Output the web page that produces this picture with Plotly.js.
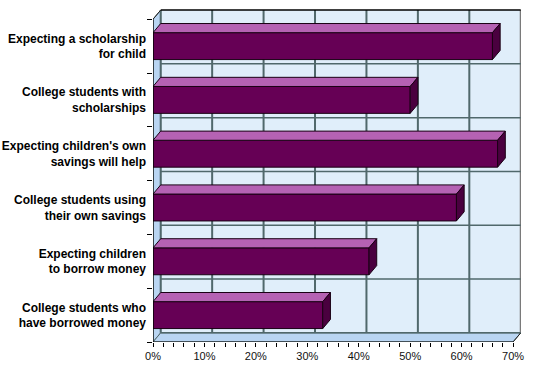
<!DOCTYPE html>
<html><head><meta charset="utf-8">
<script src="https://cdn.plot.ly/plotly-3.0.1.min.js"></script>
<style>html,body{margin:0;padding:0;background:#fff}</style>
</head><body><div id="chart" style="width:537px;height:367px"></div>
<script>
// ---- data ----
const categories = [
  "Expecting a scholarship<br>for child",
  "College students with<br>scholarships",
  "Expecting children's own<br>savings will help",
  "College students using<br>their own savings",
  "Expecting children<br>to borrow money",
  "College students who<br>have borrowed money"
];
const values = [66, 50, 67, 59, 42, 33];
const xTickVals = [0, 10, 20, 30, 40, 50, 60, 70];
const xTickText = ["0%", "10%", "20%", "30%", "40%", "50%", "60%", "70%"];

// ---- geometry (depth of the 3D frame, in axis units) ----
const N = categories.length;
const XMAX = 70;
const DX = 1.5, DY = 0.17, BARW = 0.5;
const yc = categories.map((c, i) => N - 1 - i + 0.5);

const GRID = '#50686b';
const shapes = [];
// back wall
shapes.push({type:'rect', xref:'x', yref:'y', x0:DX, x1:XMAX+DX, y0:DY, y1:N+DY,
  fillcolor:'#e0eefa', line:{width:0}, layer:'below'});
// side wall
shapes.push({type:'path', xref:'x', yref:'y', path:`M 0,0 L ${DX},${DY} L ${DX},${N+DY} L 0,${N} Z`,
  fillcolor:'#b9d5f2', line:{color:'#50686b', width:1}, layer:'below'});
// floor
shapes.push({type:'path', xref:'x', yref:'y', path:`M 0,0 L ${XMAX},0 L ${XMAX+DX},${DY} L ${DX},${DY} Z`,
  fillcolor:'#b9d5f2', line:{color:'#50686b', width:1}, layer:'below'});
// vertical gridlines on back wall
xTickVals.forEach(v => {
  shapes.push({type:'line', xref:'x', yref:'y', x0:v+DX, x1:v+DX, y0:DY, y1:N+DY,
    line:{color: v===XMAX ? '#7a7a7a' : GRID, width:2}, layer:'below'});
});
// horizontal gridlines on back wall
for (let k = 0; k <= N; k++) {
  shapes.push({type:'line', xref:'x', yref:'y', x0:DX, x1:XMAX+DX, y0:k+DY, y1:k+DY,
    line:{color: k===N ? '#000' : GRID, width:1.5}, layer:'below'});
}
// top-left diagonal and bottom-right diagonal
shapes.push({type:'line', xref:'x', yref:'y', x0:0, x1:DX, y0:N, y1:N+DY, line:{color:'#222', width:1}, layer:'below'});
shapes.push({type:'line', xref:'x', yref:'y', x0:XMAX, x1:XMAX+DX, y0:0, y1:DY, line:{color:'#222', width:1}, layer:'below'});
// front axis lines
shapes.push({type:'line', xref:'x', yref:'y', x0:0, x1:XMAX, y0:0, y1:0, line:{color:'#000', width:1.2}});
shapes.push({type:'line', xref:'x', yref:'y', x0:0, x1:0, y0:0, y1:N, line:{color:'#000', width:1.2}});

// ---- bar faces built from the data ----
const topX = [], topY = [], sideX = [], sideY = [];
values.forEach((v, i) => {
  const t = yc[i] + BARW/2, b = yc[i] - BARW/2;
  topX.push(0, DX, v+DX, v, 0, null);
  topY.push(t, t+DY, t+DY, t, t, null);
  sideX.push(v, v+DX, v+DX, v, v, null);
  sideY.push(b, b+DY, t+DY, t, b, null);
});

const traces = [
  {type:'bar', orientation:'h', x:values, y:yc, width:BARW,
   marker:{color:'#660055', line:{color:'#1a0014', width:1}}, hoverinfo:'skip', xaxis:'x', yaxis:'y'},
  {type:'scatter', mode:'lines', x:topX, y:topY, fill:'toself', fillcolor:'#b562b3',
   line:{color:'#1a0014', width:1}, hoverinfo:'skip', xaxis:'x', yaxis:'y'},
  {type:'scatter', mode:'lines', x:sideX, y:sideY, fill:'toself', fillcolor:'#4a003f',
   line:{color:'#1a0014', width:1}, hoverinfo:'skip', xaxis:'x', yaxis:'y'},
  // invisible trace to drive the boundary-tick axis
  {type:'scatter', mode:'markers', x:[0], y:[0], marker:{opacity:0}, hoverinfo:'skip', xaxis:'x', yaxis:'y2'}
];

const layout = {
  width:537, height:367,
  margin:{l:153, r:16, t:9, b:25},
  paper_bgcolor:'#fff', plot_bgcolor:'#fff',
  showlegend:false,
  font:{family:'Liberation Sans, Arial, sans-serif', color:'#000'},
  xaxis:{range:[0, 71.55], fixedrange:true, showgrid:false, zeroline:false, showline:false,
    tickvals:xTickVals, ticktext:xTickText, ticks:'outside', ticklen:4, tickcolor:'#000', tickwidth:1,
    minor:{dtick:2, tick0:0, ticks:'outside', ticklen:4, tickcolor:'#000', showgrid:false},
    tickfont:{size:11, color:'#111'}},
  yaxis:{range:[0, 6.19], fixedrange:true, showgrid:false, zeroline:false, showline:false,
    tickvals:yc, ticktext:categories, ticks:'', ticklabelstandoff:6,
    tickfont:{size:12, color:'#000', weight:'bold'}},
  yaxis2:{range:[0, 6.19], overlaying:'y', side:'left', anchor:'x', showgrid:false, zeroline:false, showline:false,
    tickvals:[0,1,2,3,4,5,6], ticks:'outside', ticklen:5, tickcolor:'#000', showticklabels:false},
  shapes:shapes
};

Plotly.newPlot('chart', traces, layout, {staticPlot:true, displayModeBar:false});
</script></body></html>
